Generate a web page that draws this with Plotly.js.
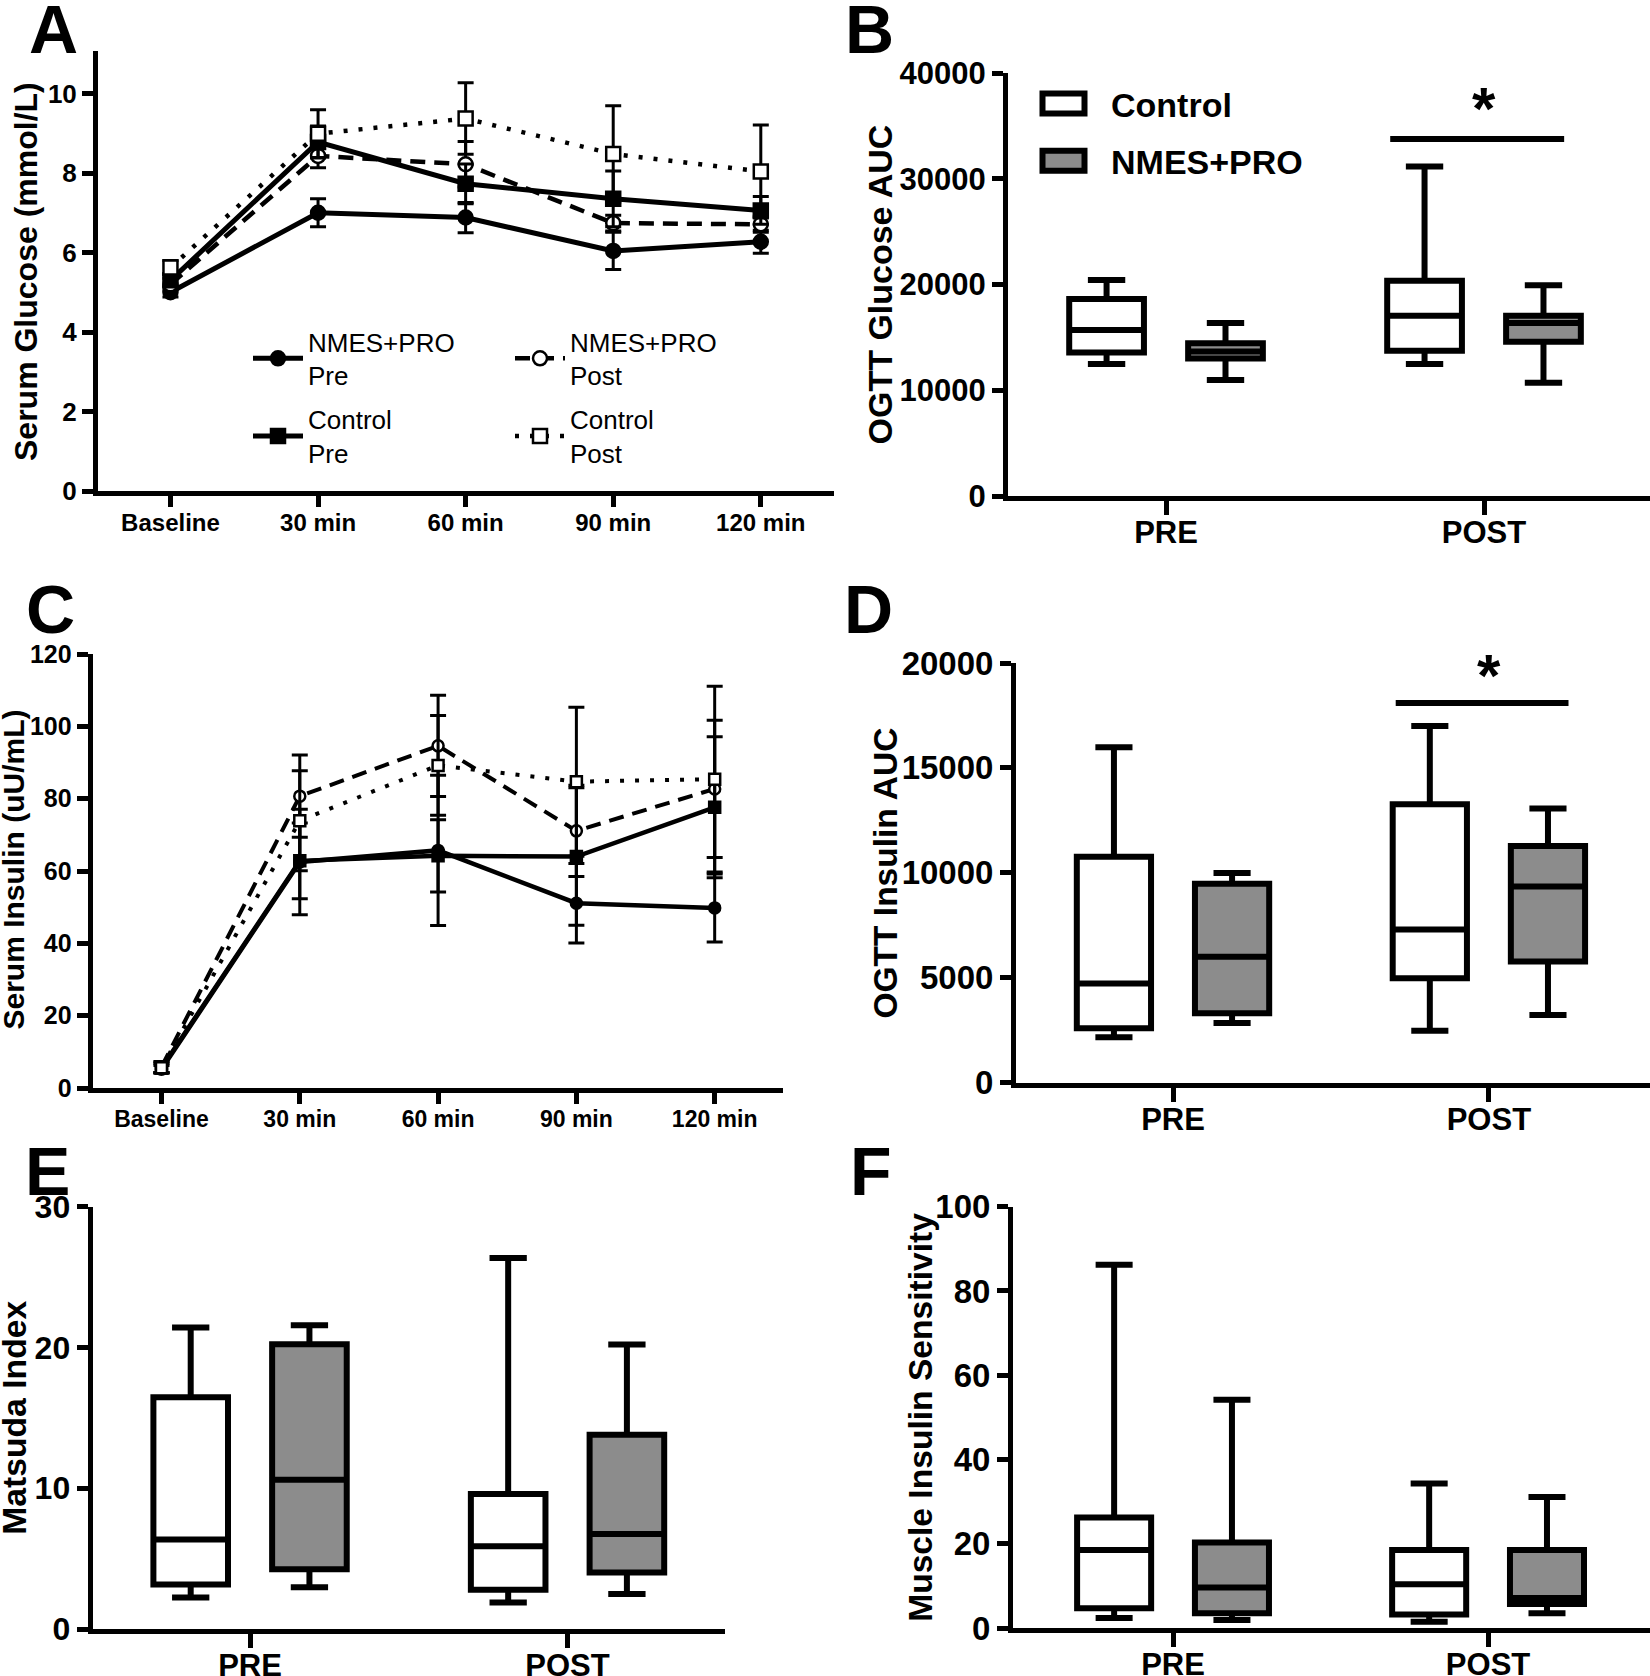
<!DOCTYPE html>
<html lang="pt-BR">
<head>
<meta charset="utf-8">
<title>OGTT - glicose, insulina e sensibilidade</title>
<script src="https://cdn.plot.ly/plotly-3.0.1.min.js"></script>
<style>
  html, body { margin: 0; padding: 0; background: #ffffff; }
  #figura { width: 1650px; height: 1676px; }
</style>
</head>
<body>
<div id="figura"></div>
<script>
/* ========= BASE DE DADOS ========= */
const tempos = ["Baseline", "30 min", "60 min", "90 min", "120 min"];
const momentos = ["PRE", "POST"];

// Painel A - glicose sérica (mmol/L): média e erro
const glicoseNmesPre = [5.0, 7.0, 6.88, 6.04, 6.27];
const glicoseNmesPreErro = [0.12, 0.35, 0.38, 0.47, 0.29];
const glicoseNmesPost = [5.2, 8.43, 8.22, 6.74, 6.71];
const glicoseNmesPostErro = [0.15, 0.3, 0.57, 0.2, 0.2];
const glicoseControlePre = [5.3, 8.78, 7.73, 7.35, 7.06];
const glicoseControlePreErro = [0.15, 0.4, 0.5, 0.7, 0.35];
const glicoseControlePost = [5.62, 8.99, 9.37, 8.48, 8.04];
const glicoseControlePostErro = [0.18, 0.6, 0.9, 1.21, 1.17];

// Painel C - insulina sérica (uU/mL): média e erro
const insulinaNmesPre = [5.2, 62.5, 65.7, 51.1, 49.8];
const insulinaNmesPreErro = [1.0, 14.6, 20.8, 11.0, 9.4];
const insulinaNmesPost = [5.8, 80.7, 94.6, 71.1, 82.7];
const insulinaNmesPostErro = [1.5, 11.4, 14.0, 12.6, 19.0];
const insulinaControlePre = [5.5, 62.8, 64.2, 64.0, 77.6];
const insulinaControlePreErro = [1.2, 10.5, 10.0, 19.0, 19.5];
const insulinaControlePost = [5.6, 73.9, 89.2, 84.7, 85.4];
const insulinaControlePostErro = [1.5, 13.8, 13.8, 20.6, 25.7];

// Painéis B, D, E, F - cada lista: [mínimo, Q1, mediana, Q3, máximo]
const glicoseAucControlePre = [12490, 13570, 15700, 18630, 20420];
const glicoseAucControlePost = [12490, 13740, 17050, 20350, 31160];
const glicoseAucNmesPre = [10970, 13000, 13670, 14450, 16370];
const glicoseAucNmesPost = [10700, 14580, 16370, 17050, 19920];

const insulinaAucControlePre = [2160, 2590, 4720, 10760, 15980];
const insulinaAucControlePost = [2470, 4970, 7300, 13260, 17000];
const insulinaAucNmesPre = [2840, 3300, 5990, 9480, 9990];
const insulinaAucNmesPost = [3220, 5770, 9350, 11270, 13060];

const matsudaControlePre = [2.23, 3.16, 6.36, 16.47, 21.42];
const matsudaControlePost = [1.89, 2.79, 5.88, 9.59, 26.36];
const matsudaNmesPre = [2.96, 4.25, 10.61, 20.23, 21.57];
const matsudaNmesPost = [2.48, 4.01, 6.75, 13.8, 20.21];

const musculoControlePre = [2.4, 4.7, 18.5, 26.2, 86.2];
const musculoControlePost = [1.5, 3.2, 10.4, 18.5, 34.3];
const musculoNmesPre = [1.9, 3.5, 9.6, 20.3, 54.2];
const musculoNmesPost = [3.5, 5.7, 7.1, 18.5, 31.1];

/* ========= CONSTANTES DE ESTILO ========= */
const W = 1650;
const H = 1676;
const px = (v) => v / W;
const py = (v) => 1 - v / H;

const FONTE = "Liberation Sans, Arial, sans-serif";
const CINZA = "#8c8c8c";
const DESLOC = 0.187; // deslocamento das caixas em torno da categoria
const LARGURA_CAIXA = 0.235;

/* ========= TRAÇOS ========= */
const estilos = {
  nmesPre: { dash: "solid", simbolo: "circle", cor: "#000" },
  nmesPost: { dash: "15px,9px", simbolo: "circle", cor: "#fff" },
  controlePre: { dash: "solid", simbolo: "square", cor: "#000" },
  controlePost: { dash: "4px,11px", simbolo: "square", cor: "#fff" },
};

function serie(nome, y, erro, estilo, eixo, legenda, tamanho, espessura) {
  return {
    type: "scatter",
    mode: "lines+markers",
    name: nome,
    x: tempos,
    y: y,
    xaxis: "x" + eixo,
    yaxis: "y" + eixo,
    line: { color: "#000", width: espessura, dash: estilo.dash },
    marker: {
      symbol: estilo.simbolo,
      size: tamanho,
      color: estilo.cor,
      line: { color: "#000", width: 2.5 },
    },
    error_y: {
      type: "data",
      array: erro,
      visible: true,
      color: "#000",
      thickness: 3,
      width: 8,
    },
    showlegend: !!legenda,
    legend: legenda || "legend",
    legendgroup: nome,
    hoverinfo: "skip",
  };
}

function caixa(nome, pre, post, preenchimento, desloc, eixo, legenda) {
  const estat = [pre, post];
  return {
    type: "box",
    name: nome,
    orientation: "v",
    x: momentos.map((_, i) => i + desloc),
    lowerfence: estat.map((s) => s[0]),
    q1: estat.map((s) => s[1]),
    median: estat.map((s) => s[2]),
    q3: estat.map((s) => s[3]),
    upperfence: estat.map((s) => s[4]),
    width: LARGURA_CAIXA,
    whiskerwidth: 0.5,
    boxpoints: false,
    fillcolor: preenchimento,
    line: { color: "#000", width: 6 },
    xaxis: "x" + eixo,
    yaxis: "y" + eixo,
    showlegend: !!legenda,
    legend: legenda || "legend",
    legendgroup: nome,
    hoverinfo: "skip",
  };
}

const dados = [
  // A
  serie("NMES+PRO<br>Pre", glicoseNmesPre, glicoseNmesPreErro, estilos.nmesPre, "", "legend", 14, 5),
  serie("NMES+PRO<br>Post", glicoseNmesPost, glicoseNmesPostErro, estilos.nmesPost, "", "legend3", 14, 4.5),
  serie("Control<br>Pre", glicoseControlePre, glicoseControlePreErro, estilos.controlePre, "", "legend", 14, 5),
  serie("Control<br>Post", glicoseControlePost, glicoseControlePostErro, estilos.controlePost, "", "legend3", 14, 4.5),
  // C
  serie("NMES+PRO Pre", insulinaNmesPre, insulinaNmesPreErro, estilos.nmesPre, "3", null, 11, 4.5),
  serie("NMES+PRO Post", insulinaNmesPost, insulinaNmesPostErro, estilos.nmesPost, "3", null, 11, 4),
  serie("Control Pre", insulinaControlePre, insulinaControlePreErro, estilos.controlePre, "3", null, 11, 4.5),
  serie("Control Post", insulinaControlePost, insulinaControlePostErro, estilos.controlePost, "3", null, 11, 4),
  // B
  caixa("Control", glicoseAucControlePre, glicoseAucControlePost, "#fff", -DESLOC, "2", "legend2"),
  caixa("NMES+PRO", glicoseAucNmesPre, glicoseAucNmesPost, CINZA, DESLOC, "2", "legend2"),
  // D
  caixa("Control", insulinaAucControlePre, insulinaAucControlePost, "#fff", -DESLOC, "4"),
  caixa("NMES+PRO", insulinaAucNmesPre, insulinaAucNmesPost, CINZA, DESLOC, "4"),
  // E
  caixa("Control", matsudaControlePre, matsudaControlePost, "#fff", -DESLOC, "5"),
  caixa("NMES+PRO", matsudaNmesPre, matsudaNmesPost, CINZA, DESLOC, "5"),
  // F
  caixa("Control", musculoControlePre, musculoControlePost, "#fff", -DESLOC, "6"),
  caixa("NMES+PRO", musculoNmesPre, musculoNmesPost, CINZA, DESLOC, "6"),
];

/* ========= EIXOS ========= */
function eixoBase(extra) {
  return Object.assign(
    {
      showline: true,
      linecolor: "#000",
      linewidth: 5,
      ticks: "outside",
      tickcolor: "#000",
      tickwidth: 5,
      ticklen: 11,
      showgrid: false,
      zeroline: false,
      fixedrange: true,
    },
    extra,
  );
}

function eixoX(dominio, ancora, faixa, tamanho, categorias) {
  const base = {
    domain: dominio,
    anchor: ancora,
    range: faixa,
    tickfont: { family: FONTE, size: tamanho, color: "#000", weight: "bold" },
  };
  if (categorias) {
    base.type = "category";
    base.ticklabelstandoff = -5;
  } else {
    base.type = "linear";
    base.tickmode = "array";
    base.tickvals = [0, 1];
    base.ticktext = momentos;
    base.ticklen = 14;
    base.ticklabelstandoff = -9;
  }
  return eixoBase(base);
}

function eixoY(dominio, ancora, faixa, passo, tamanho) {
  return eixoBase({
    domain: dominio,
    anchor: ancora,
    range: faixa,
    dtick: passo,
    tick0: 0,
    tickformat: "d",
    tickfont: { family: FONTE, size: tamanho, color: "#000", weight: "bold" },
  });
}

/* ========= ANOTAÇÕES ========= */
function letra(texto, x, y) {
  return {
    text: texto,
    xref: "paper",
    yref: "paper",
    x: px(x),
    y: py(y),
    xanchor: "center",
    yanchor: "middle",
    showarrow: false,
    font: { family: FONTE, size: 68, color: "#000", weight: "bold" },
  };
}

function tituloY(texto, x, y, tamanho) {
  return {
    text: texto,
    xref: "paper",
    yref: "paper",
    x: px(x),
    y: py(y),
    xanchor: "center",
    yanchor: "middle",
    textangle: -90,
    showarrow: false,
    font: { family: FONTE, size: tamanho, color: "#000", weight: "bold" },
  };
}

function estrela(eixo, y) {
  return {
    text: "*",
    xref: "x" + eixo,
    yref: "y" + eixo,
    x: 1,
    y: y,
    xanchor: "center",
    yanchor: "middle",
    showarrow: false,
    font: { family: FONTE, size: 60, color: "#000", weight: "bold" },
  };
}

function barraSignificancia(eixo, y) {
  return {
    type: "line",
    xref: "x" + eixo,
    yref: "y" + eixo,
    x0: 1 - 0.295,
    x1: 1 + 0.252,
    y0: y,
    y1: y,
    line: { color: "#000", width: 6 },
  };
}

const legendaA = {
  orientation: "v",
  xanchor: "left",
  yanchor: "top",
  itemwidth: 50,
  traceorder: "grouped",
  tracegroupgap: 7,
  bgcolor: "rgba(0,0,0,0)",
  font: { family: FONTE, size: 26, color: "#000" },
};

const layout = {
  width: W,
  height: H,
  margin: { l: 0, r: 0, t: 0, b: 0 },
  paper_bgcolor: "#fff",
  plot_bgcolor: "rgba(0,0,0,0)",
  hovermode: false,

  xaxis: eixoX([px(98), px(834)], "y", [-0.491, 4.496], 24, true),
  yaxis: eixoY([py(491), py(51)], "x", [0, 11.07], 2, 26),
  xaxis2: eixoX([px(1008), 1], "y2", [-0.497, 1.522], 31),
  yaxis2: eixoY([py(496), py(73)], "x2", [0, 40000], 10000, 31),
  xaxis3: eixoX([px(92.6), px(783)], "y3", [-0.498, 4.494], 23, true),
  yaxis3: eixoY([py(1088), py(654)], "x3", [0, 120], 20, 25),
  xaxis4: eixoX([px(1016), 1], "y4", [-0.497, 1.51], 31),
  yaxis4: eixoY([py(1082.5), py(663)], "x4", [0, 20000], 5000, 33),
  xaxis5: eixoX([px(92.6), px(725)], "y5", [-0.496, 1.496], 31),
  yaxis5: eixoY([py(1629), py(1206.7)], "x5", [0, 30], 10, 32),
  xaxis6: eixoX([px(1013), 1], "y6", [-0.508, 1.514], 31),
  yaxis6: eixoY([py(1628), py(1206.7)], "x6", [0, 100], 20, 33),

  legend: Object.assign({ x: px(248), y: py(318) }, legendaA),
  legend3: Object.assign({ x: px(510), y: py(318) }, legendaA),
  legend2: {
    x: px(1016),
    y: py(75),
    xanchor: "left",
    yanchor: "top",
    orientation: "v",
    itemwidth: 85,
    traceorder: "grouped",
    tracegroupgap: 10,
    bgcolor: "rgba(0,0,0,0)",
    font: { family: FONTE, size: 34, color: "#000", weight: "bold" },
  },

  shapes: [barraSignificancia("2", 33755), barraSignificancia("4", 18093)],

  annotations: [
    letra("A", 53, 29.5),
    letra("B", 869.5, 29.5),
    letra("C", 50, 608.5),
    letra("D", 869, 608.5),
    letra("E", 47.5, 1171),
    letra("F", 870.5, 1170.5),
    tituloY("Serum Glucose (mmol/L)", 26.5, 271.5, 32),
    tituloY("OGTT Glucose AUC", 880, 284.5, 34),
    tituloY("Serum Insulin (uU/mL)", 13.5, 870, 30),
    tituloY("OGTT Insulin AUC", 885, 873.5, 33.5),
    tituloY("Matsuda Index", 14, 1417.8, 33.7),
    tituloY("Muscle Insulin Sensitivity", 921, 1417.8, 33.6),
    estrela("2", 36600),
    estrela("4", 19390),
  ],
};

/* ========= INICIALIZAÇÃO ========= */
document.addEventListener("DOMContentLoaded", () => {
  Plotly.newPlot("figura", dados, layout, {
    displayModeBar: false,
    staticPlot: true,
  }).then(() => {
    // ícones da legenda do painel B no formato retangular do original
    document
      .querySelectorAll("#figura .legend2 path.legendbox")
      .forEach((p) => {
        p.setAttribute("d", "M21,10H-21V-10H21Z");
        p.style.strokeWidth = "6px";
      });
  });
});
</script>
</body>
</html>
